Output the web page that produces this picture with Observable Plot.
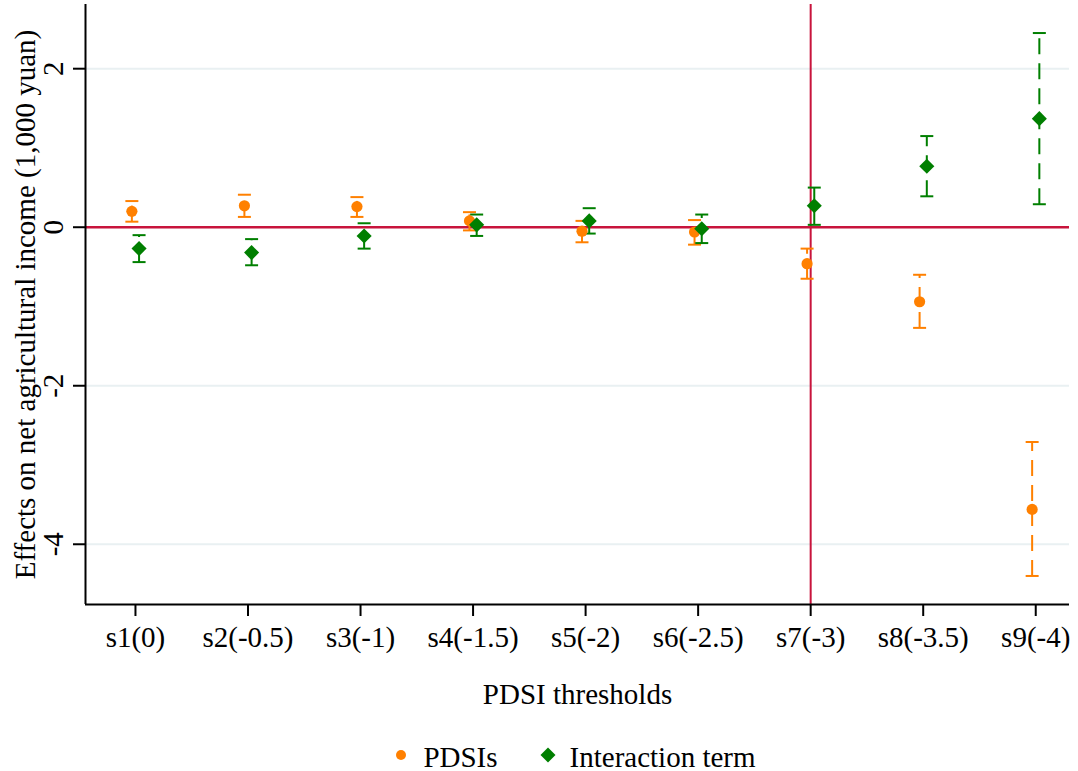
<!DOCTYPE html>
<html>
<head>
<meta charset="utf-8">
<script src="https://cdn.jsdelivr.net/npm/d3@7"></script>
<script src="https://cdn.jsdelivr.net/npm/@observablehq/plot@0.6"></script>
<style>
  html, body { margin: 0; padding: 0; background: #fff; }
  body { font-family: 'Liberation Serif', serif; width: 1078px; overflow: hidden; }
  #chart svg { display: block; }
  #chart svg text { font-family: 'Liberation Serif', serif; }
  #legend {
    box-sizing: border-box; width: 1078px; height: 41px;
    padding-left: 80px; padding-right: 9px;
    display: flex; justify-content: center; align-items: flex-start;
    font-family: 'Liberation Serif', serif;
    font-size: 29px; line-height: 31px; color: #000; padding-top: 12px;
  }
  #legend .item { display: flex; align-items: center; }
  #legend svg { display: block; }
</style>
</head>
<body>
<div id="chart"></div>
<div id="legend"></div>
<script>
// ---- data ----
const categories = ["s1(0)", "s2(-0.5)", "s3(-1)", "s4(-1.5)", "s5(-2)", "s6(-2.5)", "s7(-3)", "s8(-3.5)", "s9(-4)"];
const seriesNames = ["PDSIs", "Interaction term"];
const pdsiEst = [0.20, 0.27, 0.26, 0.08, -0.05, -0.06, -0.46, -0.94, -3.56];
const pdsiLo  = [0.07, 0.13, 0.13, -0.04, -0.19, -0.22, -0.65, -1.27, -4.40];
const pdsiHi  = [0.33, 0.41, 0.38, 0.19, 0.08, 0.09, -0.27, -0.60, -2.71];
const interEst = [-0.27, -0.32, -0.11, 0.03, 0.08, -0.02, 0.27, 0.77, 1.37];
const interLo  = [-0.44, -0.48, -0.27, -0.11, -0.08, -0.20, 0.03, 0.39, 0.29];
const interHi  = [-0.10, -0.15, 0.05, 0.16, 0.24, 0.16, 0.50, 1.15, 2.45];
const yTicks = [-4, -2, 0, 2];
const refY = 0;
const refCategory = "s7(-3)";

// ---- scales / styling ----
const xDomain = [0.556, 9.30];
const yDomain = [-4.76, 2.81];
const orange = "#ff8000";
const green = "#007f00";
const red = "#c8143c";
const gridColor = "#e9f0f2";
const fontFamily = "'Liberation Serif', serif";

const pdsiRows = categories.map((c, i) => ({cat: c, idx: i + 1, est: pdsiEst[i], lo: pdsiLo[i], hi: pdsiHi[i]}));
const interRows = categories.map((c, i) => ({cat: c, idx: i + 1, est: interEst[i], lo: interLo[i], hi: interHi[i]}));

const capSymbol = {
  draw(ctx, size) {
    const r = Math.sqrt(size / Math.PI);
    ctx.moveTo(-r, 0);
    ctx.lineTo(r, 0);
  }
};

function errorMarks(rows, color, dx) {
  return [
    Plot.link(rows, {x1: "idx", x2: "idx", y1: "lo", y2: "hi", stroke: color, strokeWidth: 2, strokeDasharray: "16,9", dx}),
    Plot.dot(rows, {x: "idx", y: "lo", symbol: capSymbol, r: 6.5, fill: "none", stroke: color, strokeWidth: 2, dx}),
    Plot.dot(rows, {x: "idx", y: "hi", symbol: capSymbol, r: 6.5, fill: "none", stroke: color, strokeWidth: 2, dx})
  ];
}

const chart = Plot.plot({
  width: 1078,
  height: 730,
  marginTop: 4,
  marginBottom: 126,
  marginLeft: 85,
  marginRight: 9,
  style: {fontFamily: fontFamily, fontSize: "29px", color: "#000", background: "#fff"},
  x: {type: "linear", domain: xDomain},
  y: {type: "linear", domain: yDomain},
  marks: [
    Plot.gridY(yTicks, {stroke: gridColor, strokeOpacity: 1, strokeWidth: 2}),
    Plot.ruleY([refY], {stroke: red, strokeWidth: 2.5}),
    Plot.ruleX([categories.indexOf(refCategory) + 1], {stroke: red, strokeWidth: 2}),
    ...errorMarks(pdsiRows, orange, -3.6),
    ...errorMarks(interRows, green, 3.6),
    Plot.dot(pdsiRows, {x: "idx", y: "est", r: 5.6, fill: orange, stroke: "none", symbol: "circle", dx: -3.6}),
    Plot.dot(interRows, {x: "idx", y: "est", r: 6.8, fill: green, stroke: "none", symbol: "diamond2", dx: 3.6}),
    Plot.ruleY([yDomain[0]], {stroke: "#000", strokeWidth: 2}),
    Plot.ruleX([xDomain[0]], {stroke: "#000", strokeWidth: 2}),
    Plot.axisX({
      ticks: d3.range(1, categories.length + 1),
      tickFormat: i => categories[i - 1],
      tickSize: 12, tickPadding: 10, strokeWidth: 2, fontSize: 29,
      label: "PDSI thresholds", labelAnchor: "center", labelArrow: "none", labelOffset: 99
    }),
    Plot.axisY({
      ticks: yTicks,
      tickSize: 12, strokeWidth: 2,
      tickFormat: null, text: null, label: null
    }),
    Plot.text(yTicks, {
      y: d => d, text: d => String(d), frameAnchor: "left", rotate: -90,
      dx: -32, textAnchor: "middle", lineAnchor: "middle", fontSize: 29, fill: "#000"
    }),
    Plot.axisY({
      ticks: [], tickSize: 0,
      label: "Effects on net agricultural income (1,000 yuan)", labelAnchor: "center", labelArrow: "none", labelOffset: 71, fontSize: 29
    })
  ]
});
chart.setAttribute("font-family", fontFamily);
chart.style.fontFamily = fontFamily;
document.getElementById("chart").appendChild(chart);

// ---- legend below the chart ----
const legend = document.getElementById("legend");
function legendItem(name, color, shape, gapAfter) {
  const item = document.createElement("div");
  item.className = "item";
  item.style.marginRight = gapAfter + "px";
  const ns = "http://www.w3.org/2000/svg";
  const s = document.createElementNS(ns, "svg");
  s.setAttribute("width", 16); s.setAttribute("height", 16);
  s.style.marginRight = "14px";
  s.style.marginTop = "-6px";
  let el;
  if (shape === "circle") {
    el = document.createElementNS(ns, "circle");
    el.setAttribute("cx", 8); el.setAttribute("cy", 8); el.setAttribute("r", 5);
  } else {
    el = document.createElementNS(ns, "path");
    el.setAttribute("d", "M8,0.5L15.5,8L8,15.5L0.5,8Z");
  }
  el.setAttribute("fill", color);
  s.appendChild(el);
  item.appendChild(s);
  const t = document.createElement("span");
  t.textContent = name;
  t.style.fontFamily = fontFamily;
  item.appendChild(t);
  legend.appendChild(item);
}
legendItem(seriesNames[0], orange, "circle", 42);
legendItem(seriesNames[1], green, "diamond", 0);
</script>
</body>
</html>
